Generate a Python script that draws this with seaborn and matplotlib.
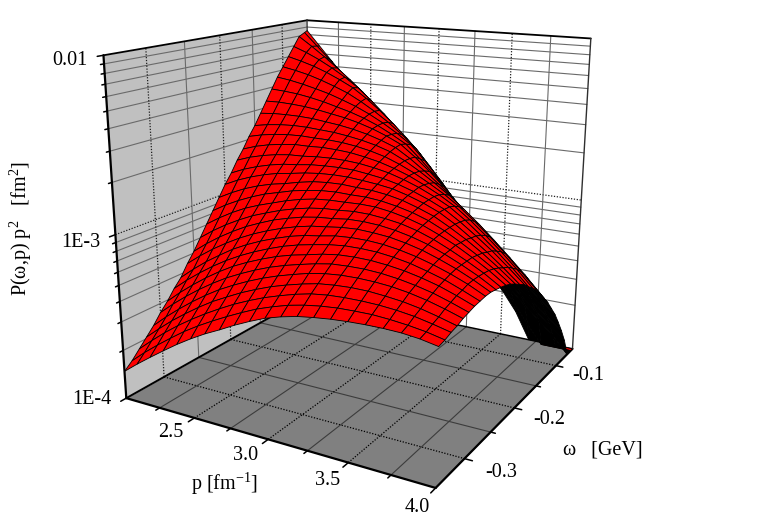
import numpy as np
import seaborn as sns
import matplotlib
matplotlib.use('Agg')
import matplotlib.pyplot as plt

# momentum grid [1/fm] and removal energy grid [GeV]
p_grid = [2.0,2.1,2.2,2.3,2.4,2.5,2.6,2.7,2.8,2.9,3.0,3.1,3.2,3.3,3.4,3.5,3.6,3.7,3.8,3.9,4.0]
w_grid = [-.35,-.34,-.33,-.32,-.31,-.30,-.29,-.28,-.27,-.26,-.25,-.24,-.23,-.22,-.21,-.20,-.19,-.18,-.17,-.16,
          -.15,-.14,-.13,-.12,-.11,-.10,-.09,-.08,-.07,-.06,-.055]

# log10 of P(w,p) p^2, one row per w value
log_z = [
[-3.83,-3.762,-3.698,-3.636,-3.576,-3.521,-3.471,-3.427,-3.38,-3.338,-3.30,-3.272,-3.25,-3.236,-3.225,-3.218,-3.214,-3.213,-3.216,-3.226,-3.244],
[-3.79,-3.716,-3.648,-3.584,-3.523,-3.469,-3.42,-3.374,-3.331,-3.291,-3.259,-3.231,-3.211,-3.197,-3.188,-3.185,-3.184,-3.19,-3.20,-3.214,-3.235],
[-3.74,-3.666,-3.596,-3.532,-3.474,-3.42,-3.371,-3.325,-3.285,-3.249,-3.219,-3.192,-3.171,-3.159,-3.154,-3.153,-3.156,-3.164,-3.177,-3.197,-3.22],
[-3.69,-3.616,-3.546,-3.483,-3.424,-3.37,-3.324,-3.28,-3.242,-3.208,-3.18,-3.156,-3.136,-3.126,-3.121,-3.122,-3.13,-3.141,-3.159,-3.183,-3.21],
[-3.64,-3.565,-3.496,-3.432,-3.373,-3.32,-3.275,-3.234,-3.198,-3.167,-3.141,-3.117,-3.101,-3.092,-3.09,-3.093,-3.101,-3.116,-3.137,-3.164,-3.195],
[-3.58,-3.507,-3.44,-3.378,-3.322,-3.271,-3.228,-3.189,-3.155,-3.127,-3.104,-3.083,-3.067,-3.062,-3.061,-3.067,-3.079,-3.097,-3.12,-3.151,-3.185],
[-3.53,-3.456,-3.389,-3.327,-3.271,-3.221,-3.18,-3.144,-3.112,-3.087,-3.068,-3.048,-3.035,-3.031,-3.033,-3.042,-3.056,-3.077,-3.103,-3.137,-3.175],
[-3.47,-3.399,-3.335,-3.276,-3.223,-3.177,-3.137,-3.102,-3.071,-3.047,-3.029,-3.013,-3.003,-3.002,-3.006,-3.018,-3.036,-3.062,-3.091,-3.129,-3.17],
[-3.42,-3.349,-3.284,-3.227,-3.173,-3.129,-3.091,-3.059,-3.031,-3.01,-2.997,-2.981,-2.975,-2.975,-2.982,-2.997,-3.018,-3.046,-3.079,-3.118,-3.165],
[-3.35,-3.284,-3.224,-3.171,-3.123,-3.082,-3.047,-3.017,-2.992,-2.973,-2.962,-2.95,-2.945,-2.95,-2.959,-2.977,-3.001,-3.034,-3.071,-3.115,-3.165],
[-3.29,-3.225,-3.167,-3.116,-3.07,-3.033,-2.999,-2.974,-2.952,-2.938,-2.931,-2.92,-2.919,-2.925,-2.939,-2.96,-2.988,-3.026,-3.069,-3.116,-3.172],
[-3.22,-3.16,-3.107,-3.061,-3.02,-2.988,-2.958,-2.934,-2.915,-2.903,-2.899,-2.892,-2.894,-2.904,-2.919,-2.944,-2.978,-3.021,-3.068,-3.119,-3.18],
[-3.15,-3.095,-3.046,-3.004,-2.971,-2.943,-2.915,-2.893,-2.877,-2.87,-2.868,-2.865,-2.868,-2.882,-2.903,-2.931,-2.97,-3.014,-3.067,-3.124,-3.19],
[-3.08,-3.029,-2.986,-2.949,-2.917,-2.894,-2.87,-2.854,-2.842,-2.837,-2.84,-2.84,-2.849,-2.866,-2.889,-2.921,-2.965,-3.017,-3.074,-3.135,-3.205],
[-3.01,-2.965,-2.926,-2.895,-2.871,-2.854,-2.833,-2.816,-2.808,-2.806,-2.812,-2.816,-2.828,-2.848,-2.878,-2.913,-2.963,-3.018,-3.081,-3.15,-3.225],
[-2.94,-2.899,-2.866,-2.839,-2.818,-2.805,-2.79,-2.78,-2.776,-2.777,-2.785,-2.795,-2.809,-2.835,-2.867,-2.907,-2.962,-3.027,-3.095,-3.17,-3.25],
[-2.88,-2.843,-2.814,-2.791,-2.774,-2.765,-2.753,-2.748,-2.746,-2.749,-2.761,-2.775,-2.797,-2.827,-2.863,-2.906,-2.966,-3.034,-3.106,-3.186,-3.27],
[-2.81,-2.779,-2.756,-2.739,-2.728,-2.725,-2.717,-2.714,-2.716,-2.723,-2.737,-2.756,-2.784,-2.818,-2.86,-2.908,-2.973,-3.048,-3.127,-3.212,-3.305],
[-2.75,-2.721,-2.70,-2.686,-2.676,-2.676,-2.672,-2.675,-2.682,-2.697,-2.716,-2.743,-2.776,-2.818,-2.865,-2.92,-2.989,-3.067,-3.15,-3.239,-3.335],
[-2.68,-2.659,-2.645,-2.636,-2.633,-2.636,-2.637,-2.643,-2.655,-2.673,-2.697,-2.732,-2.774,-2.824,-2.878,-2.941,-3.016,-3.096,-3.182,-3.274,-3.37],
[-2.62,-2.604,-2.594,-2.589,-2.59,-2.596,-2.602,-2.614,-2.63,-2.651,-2.68,-2.724,-2.777,-2.836,-2.90,-2.973,-3.051,-3.136,-3.225,-3.316,-3.415],
[-2.55,-2.542,-2.54,-2.541,-2.546,-2.557,-2.568,-2.584,-2.605,-2.633,-2.667,-2.724,-2.79,-2.861,-2.939,-3.025,-3.105,-3.192,-3.28,-3.37,-3.465],
[-2.48,-2.478,-2.482,-2.489,-2.501,-2.517,-2.533,-2.555,-2.583,-2.618,-2.66,-2.729,-2.807,-2.893,-2.987,-3.087,-3.168,-3.253,-3.339,-3.426,-3.515],
[-2.41,-2.416,-2.425,-2.44,-2.459,-2.483,-2.507,-2.537,-2.574,-2.62,-2.671,-2.754,-2.843,-2.941,-3.047,-3.159,-3.242,-3.328,-3.412,-3.493,-3.575],
[-2.34,-2.353,-2.371,-2.393,-2.417,-2.448,-2.481,-2.522,-2.57,-2.625,-2.688,-2.781,-2.884,-2.993,-3.107,-3.23,-3.315,-3.40,-3.481,-3.557,-3.635],
[-2.28,-2.297,-2.318,-2.346,-2.378,-2.414,-2.461,-2.515,-2.576,-2.646,-2.724,-2.827,-2.936,-3.052,-3.174,-3.302,-3.387,-3.473,-3.553,-3.632,-3.71],
[-2.22,-2.243,-2.27,-2.304,-2.344,-2.389,-2.45,-2.52,-2.597,-2.682,-2.775,-2.887,-3.004,-3.126,-3.252,-3.384,-3.469,-3.552,-3.633,-3.712,-3.79],
[-2.16,-2.194,-2.235,-2.283,-2.337,-2.399,-2.476,-2.558,-2.648,-2.744,-2.847,-2.961,-3.081,-3.205,-3.333,-3.466,-3.552,-3.637,-3.72,-3.801,-3.88],
[-2.10,-2.16,-2.224,-2.292,-2.364,-2.44,-2.528,-2.62,-2.718,-2.822,-2.93,-3.054,-3.178,-3.302,-3.426,-3.55,-3.635,-3.723,-3.809,-3.895,-4.0],
[-2.08,-2.166,-2.252,-2.338,-2.424,-2.51,-2.614,-2.718,-2.822,-2.926,-3.03,-3.15,-3.27,-3.39,-3.51,-3.63,-3.75,-3.88,-4.0,-4.0,-4.0],
[-2.07,-2.17,-2.27,-2.37,-2.46,-2.56,-2.67,-2.78,-2.89,-3.0,-3.11,-3.23,-3.35,-3.47,-3.59,-3.69,-3.82,-4.0,-4.0,-4.0,-4.0],
]

p_major = [2.5,3.0,3.5]
p_minor = [2.25,2.75,3.25,3.75]
p_labels = ['2.5','3.0','3.5','4.0']
w_major = [-.1,-.2,-.3]
w_minor = [-.15,-.25]
w_labels = ['-0.1','-0.2','-0.3']
z_major = [-3]
z_minor = [-4+np.log10(m) for m in range(2,10)]+[-3+np.log10(m) for m in range(2,10)]
z_ticks = [-2,-3,-4]
z_labels = ['0.01','1E-3','1E-4']

pmin,pmax = 2,4
wmin,wmax = -.35,-.055
zmin,zmax = -4,-2

sns.set_theme(style='white')
plt.rcParams['font.family'] = ['Liberation Serif','DejaVu Sans']
plt.rcParams['mathtext.fontset'] = 'custom'
plt.rcParams['mathtext.rm'] = 'Liberation Serif'

fig = plt.figure(figsize=(7.63,5.32),dpi=100)
ax = fig.add_axes([.08899,.04229,.74797,1.07274],projection='3d')
ax.computed_zorder = False
ax.set_axis_off()

def line(xs,ys,zs,**kw):
    ax.plot(xs,ys,zs,solid_capstyle='round',**kw)

solid = dict(color='#6a6a6a',lw=.8,zorder=2)
dotted = dict(color='#202020',lw=.9,ls=(0,(1,1.3)),zorder=2)
floor_solid = dict(color='#3c3c3c',lw=.8,zorder=2)
floor_dotted = dict(color='black',lw=.9,ls=(0,(1,1.3)),zorder=2)

# walls and floor
yy,zz = np.meshgrid([wmin,wmax],[zmin,zmax])
ax.plot_surface(np.full_like(yy,pmin),yy,zz,color='#c0c0c0',shade=False,linewidth=0,zorder=1)
xx,zz = np.meshgrid([pmin,pmax],[zmin,zmax])
ax.plot_surface(xx,np.full_like(xx,wmax,dtype=float),zz,color='white',shade=False,linewidth=0,zorder=1)
xx,yy = np.meshgrid([pmin,pmax],[wmin,wmax])
ax.plot_surface(xx,yy,np.full_like(xx,zmin,dtype=float),color='#808080',shade=False,linewidth=0,zorder=1)

# grid lines on the two walls and the floor
for z in z_minor:
    line([pmin,pmin],[wmin,wmax],[z,z],**solid)
    line([pmin,pmax],[wmax,wmax],[z,z],**solid)
for z in z_major:
    line([pmin,pmin],[wmin,wmax],[z,z],**dotted)
    line([pmin,pmax],[wmax,wmax],[z,z],**dotted)
for w in w_minor:
    line([pmin,pmin],[w,w],[zmin,zmax],**solid)
    line([pmin,pmax],[w,w],[zmin,zmin],**floor_solid)
for w in w_major:
    line([pmin,pmin],[w,w],[zmin,zmax],**dotted)
    line([pmin,pmax],[w,w],[zmin,zmin],**floor_dotted)
for p in p_minor:
    line([p,p],[wmax,wmax],[zmin,zmax],**solid)
    line([p,p],[wmin,wmax],[zmin,zmin],**floor_solid)
for p in p_major:
    line([p,p],[wmax,wmax],[zmin,zmax],**dotted)
    line([p,p],[wmin,wmax],[zmin,zmin],**floor_dotted)

# box edges
edge = dict(color='black',zorder=3)
line([pmin,pmin],[wmin,wmin],[zmin,zmax],lw=1.6,**edge)
line([pmin,pmax],[wmin,wmin],[zmin,zmin],lw=1.6,**edge)
line([pmax,pmax],[wmin,wmax],[zmin,zmin],lw=1.6,**edge)
line([pmin,pmin],[wmin,wmax],[zmin,zmin],lw=1.4,**edge)
line([pmin,pmax],[wmax,wmax],[zmin,zmin],lw=1.1,**edge)
line([pmin,pmin],[wmin,wmax],[zmax,zmax],lw=1.3,**edge)
line([pmin,pmax],[wmax,wmax],[zmax,zmax],lw=1.3,**edge)
line([pmin,pmin],[wmax,wmax],[zmin,zmax],lw=.9,color='#303030',zorder=3)
line([pmax,pmax],[wmax,wmax],[zmin,zmax],lw=1.,color='#303030',zorder=3)

# ticks
for z,d in [(z,.007) for z in z_ticks]+[(z,.004) for z in z_minor]:
    line([pmin,pmin],[wmin,wmin-d],[z,z],lw=1.1,**edge)
for p,d in [(p,.008) for p in p_major+[4.0]]+[(p,.005) for p in p_minor]:
    line([p,p],[wmin,wmin-d],[zmin,zmin],lw=1.1,**edge)
for w,d in [(w,.045) for w in w_major]+[(w,.028) for w in w_minor]:
    line([pmax,pmax+d],[w,w],[zmin,zmin],lw=1.1,**edge)

# the surface, red seen from above and black seen from below
P,W = np.meshgrid(p_grid,w_grid)
Z = np.array(log_z)
ax.set_xlim(pmin,pmax); ax.set_ylim(wmin,wmax); ax.set_zlim(zmin,zmax)
ax.set_box_aspect((1.0054,.9998,1))
ax.view_init(16.3215,-59.9527)
ax.set_proj_type('persp',focal_length=.3519)
M = ax.get_proj()
h = np.stack([P,W,Z,np.ones_like(P)],axis=-1)@M.T
U = h[...,0]/h[...,3]
V = h[...,1]/h[...,3]
colors = np.zeros((Z.shape[0]-1,Z.shape[1]-1,4))
colors[...,3] = 1
for i in range(Z.shape[0]-1):
    for j in range(Z.shape[1]-1):
        a = (U[i,j+1]-U[i,j])*(V[i+1,j]-V[i,j])-(V[i,j+1]-V[i,j])*(U[i+1,j]-U[i,j])
        b = (U[i+1,j+1]-U[i+1,j])*(V[i+1,j]-V[i,j+1])-(V[i+1,j+1]-V[i+1,j])*(U[i+1,j]-U[i,j+1])
        colors[i,j,0] = 1 if a+b>=0 else 0
surf = ax.plot_surface(P,W,Z,rstride=1,cstride=1,facecolors=colors,shade=False,zorder=4)
surf.set_edgecolor('black')
surf.set_linewidth(.6)
ax.set_xlim(pmin,pmax); ax.set_ylim(wmin,wmax); ax.set_zlim(zmin,zmax)

# tick labels placed through the axes projection
def label3d(x,y,z,s,**kw):
    q = np.array([x,y,z,1.])@M.T
    fig.text(q[0]/q[3],q[1]/q[3],s,transform=ax.transData,ha=kw.pop('ha','center'),va='center',fontsize=14.5,color='black',**kw)

for z,s,dz in zip(z_ticks,z_labels,[-.012,-.012,.04]):
    label3d(pmin,wmin-.018,z+dz,s,ha='right')
for p,s in zip(p_major+[4.0],p_labels):
    label3d(p,wmin-.030,zmin,s)
for w,s in zip(w_major,w_labels):
    label3d(pmax+.22,w-.005,zmin,s)

fig.text(225/763,1-484/532,r'p [fm$^{\mathregular{-1}}$]',ha='center',va='center',fontsize=14.5,color='black')
fig.text(603/763,1-450/532,'ω   [GeV]',ha='center',va='center',fontsize=14.5,color='black')
fig.text(21/763,1-228/532,r'P(ω,p) p$^{\mathregular{2}}$   [fm$^{\mathregular{2}}$]',rotation=90,ha='center',va='center',fontsize=14.5,color='black')

fig.savefig('out.png',dpi=100)
